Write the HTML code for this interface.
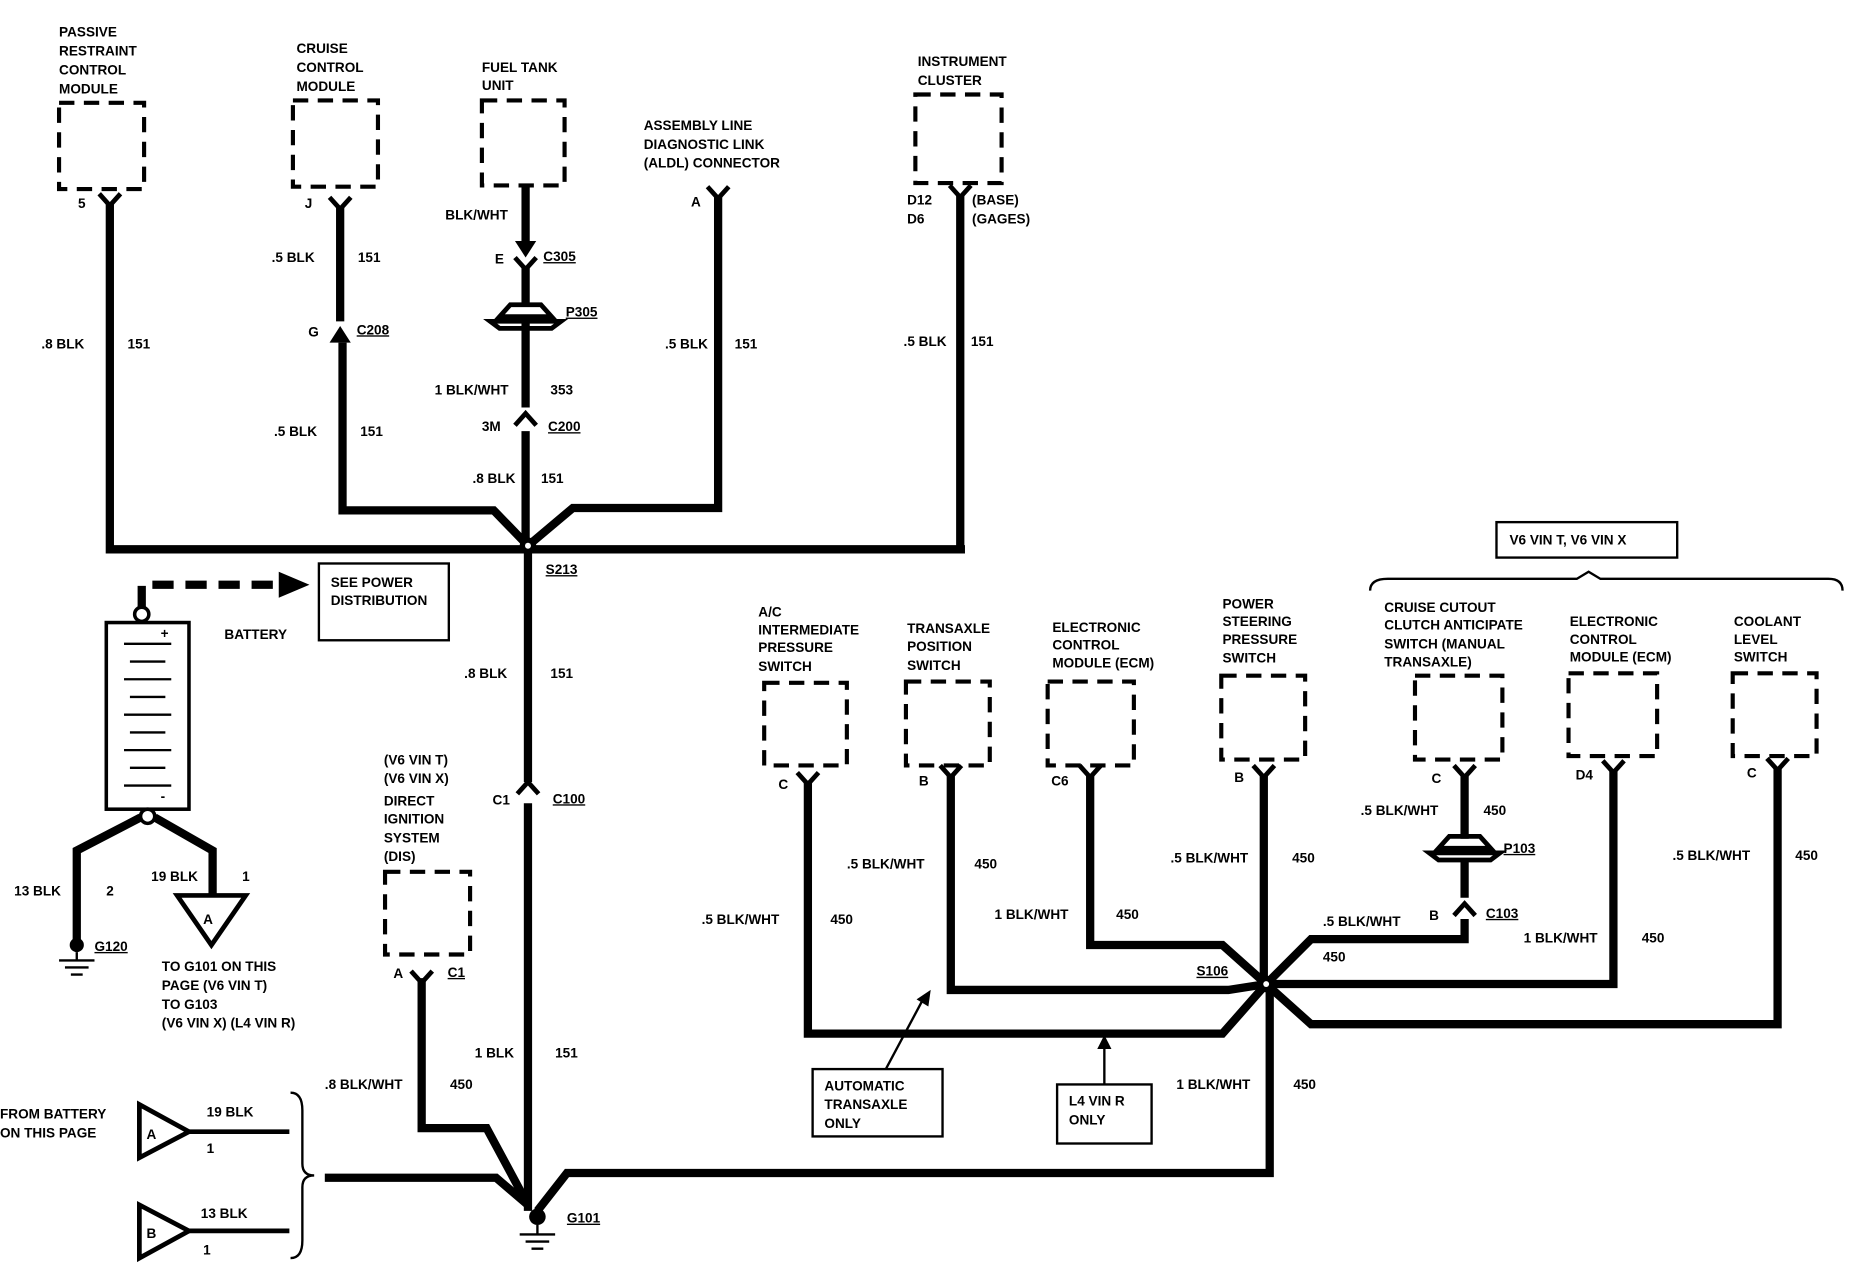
<!DOCTYPE html>
<html><head><meta charset="utf-8"><style>
html,body{margin:0;padding:0;background:#fff;}
svg{display:block}
text{font-family:"Liberation Sans",sans-serif;font-weight:bold;font-size:11.5px;fill:#000}
.w{stroke:#000;stroke-width:7;fill:none;stroke-linejoin:miter}
.b{stroke:#000;stroke-width:3.5;fill:none;stroke-dasharray:13 8}
.c{stroke:#000;stroke-width:4;fill:none}
.t{stroke:#000;stroke-width:2;fill:none}
</style></head><body>
<svg width="1852" height="1264" viewBox="0 0 1568 1070" preserveAspectRatio="none" xmlns="http://www.w3.org/2000/svg">
<rect width="1568" height="1070" fill="#fff"/>
<!-- module boxes -->
<rect class="b" x="50" y="87" width="72" height="73"/>
<rect class="b" x="248" y="85" width="72" height="73"/>
<rect class="b" x="408" y="85" width="70" height="72"/>
<rect class="b" x="775" y="80" width="73" height="75"/>
<rect class="b" x="326" y="738" width="72" height="70"/>
<rect class="b" x="647" y="578" width="70" height="70"/>
<rect class="b" x="767" y="577" width="71" height="71"/>
<rect class="b" x="887" y="577" width="73" height="71"/>
<rect class="b" x="1034" y="572" width="71" height="71"/>
<rect class="b" x="1198" y="572" width="74" height="71"/>
<rect class="b" x="1328" y="570" width="75" height="70"/>
<rect class="b" x="1467" y="570" width="71" height="70"/>
<!-- wires -->
<path class="w" d="M93 172 V465 H817"/>
<path class="w" d="M288 176 V272"/>
<path class="w" d="M290 290 V432 H418 L447 462"/>
<path class="w" d="M445 158 V205"/>
<path class="w" d="M445 225 V258 M445 272 V345"/>
<path class="w" d="M445 365 V462"/>
<path class="w" d="M608 166 V430 H485 L447 462"/>
<path class="w" d="M813 165 V465"/>
<path class="w" d="M447 462 V662 M447 680 V1025"/>
<path class="w" d="M357 828 V955 H412 L447 1020"/>
<path class="w" d="M275 997 H420 L447 1020"/>
<path class="w" d="M455 1025 L480 993 H1075 V833"/>
<!-- right side -->
<path class="w" d="M684 662 V875 H1035 L1072 833"/>
<path class="w" d="M805 656 V838 H1040 L1072 833"/>
<path class="w" d="M923 656 V800 H1035 L1072 833"/>
<path class="w" d="M1070 656 V833"/>
<path class="w" d="M1240 656 V710 M1240 728 V760 M1240 778 V795 H1110 L1072 833"/>
<path class="w" d="M1366 652 V833 H1072"/>
<path class="w" d="M1505 650 V867 H1110 L1072 833"/>
<!-- connector V shapes -->
<g class="c">
<path d="M84 164 L93 174 L102 164"/>
<path d="M279 167 L288 177 L297 167"/>
<path d="M436 218 L445 228 L454 218"/>
<path d="M436 360 L445 350 L454 360"/>
<path d="M599 158 L608 168 L617 158"/>
<path d="M804 157 L813 167 L822 157"/>
<path d="M438 672 L447 662 L456 672"/>
<path d="M348 822 L357 832 L366 822"/>
<path d="M675 654 L684 664 L693 654"/>
<path d="M796 648 L805 658 L814 648"/>
<path d="M914 648 L923 658 L932 648"/>
<path d="M1061 648 L1070 658 L1079 648"/>
<path d="M1231 648 L1240 658 L1249 648"/>
<path d="M1357 644 L1366 654 L1375 644"/>
<path d="M1496 642 L1505 652 L1514 642"/>
<path d="M1231 775 L1240 765 L1249 775"/>
</g>
<!-- arrowheads -->
<polygon points="279,290 297,290 288,276"/>
<polygon points="436,204 454,204 445,218"/>
<!-- P305 / P103 -->
<g class="c">
<path d="M423 268 L432 258 H458 L467 268 Z"/>
<path d="M415 272 H475 L467 278 H423 Z"/>
<path d="M1218 718 L1227 708 H1253 L1262 718 Z"/>
<path d="M1210 722 H1270 L1262 728 H1218 Z"/>
</g>
<!-- splices -->
<circle cx="447" cy="462" r="7" fill="#000"/><circle cx="447" cy="462" r="2.5" fill="#fff"/>
<circle cx="1072" cy="833" r="7" fill="#000"/><circle cx="1072" cy="833" r="2.5" fill="#fff"/>
<circle cx="455" cy="1030" r="7" fill="#000"/>
<path class="t" d="M455 1037 V1045 M440 1045 H470 M445 1051 H465 M450 1057 H460"/>
<!-- battery -->
<rect x="90" y="527" width="70" height="158" fill="none" stroke="#000" stroke-width="3"/>
<g class="t"><path d="M105 545 H145 M110 560 H140 M105 575 H145 M110 590 H140 M105 605 H145 M110 620 H140 M105 635 H145 M110 650 H140 M105 665 H145"/></g>
<text x="136" y="540">+</text><text x="136" y="678">-</text>
<circle cx="120" cy="520" r="6" fill="#fff" stroke="#000" stroke-width="3"/>
<circle cx="125" cy="691" r="6" fill="#fff" stroke="#000" stroke-width="3"/>
<path d="M120 514 V495 H240" stroke="#000" stroke-width="7" fill="none" stroke-dasharray="18 10"/>
<polygon points="236,484 262,495 236,506"/>
<rect x="270" y="477" width="110" height="65" fill="none" stroke="#000" stroke-width="2"/>
<path class="w" d="M119 692 L65 720 V800 M131 692 L180 720 V760"/>
<polygon points="150,758 208,758 179,800" fill="#fff" stroke="#000" stroke-width="4"/>
<text x="172" y="782" font-size="14">A</text>
<circle cx="65" cy="800" r="6" fill="#000"/>
<path class="t" d="M65 806 V813 M50 813 H80 M55 819 H75 M60 825 H70"/>
<!-- bottom left -->
<polygon points="118,935 118,980 160,958" fill="#fff" stroke="#000" stroke-width="4"/>
<text x="124" y="964" font-size="14">A</text>
<polygon points="118,1020 118,1065 160,1042" fill="#fff" stroke="#000" stroke-width="4"/>
<text x="124" y="1048" font-size="14">B</text>
<path class="c" d="M160 958 H245 M160 1042 H245"/>
<path class="t" d="M246 925 Q256 925 256 940 V985 Q256 995 266 995 Q256 995 256 1005 V1050 Q256 1065 246 1065"/>
<!-- boxes with text -->
<rect x="1267" y="442" width="153" height="30" fill="none" stroke="#000" stroke-width="2"/>
<path class="t" d="M1160 500 Q1160 490 1175 490 H1335 L1345 484 L1355 490 H1548 Q1560 490 1560 500"/>
<rect x="688" y="905" width="110" height="57" fill="none" stroke="#000" stroke-width="2"/>
<path class="t" d="M750 905 L782 845"/><polygon points="776,846 788,838 786,852"/>
<rect x="895" y="918" width="80" height="50" fill="none" stroke="#000" stroke-width="2"/>
<path class="t" d="M935 918 V885"/><polygon points="929,888 935,876 941,888"/>
<!-- labels -->
<g>
<text x="50" y="31">PASSIVE</text><text x="50" y="47">RESTRAINT</text><text x="50" y="63">CONTROL</text><text x="50" y="79">MODULE</text>
<text x="251" y="45">CRUISE</text><text x="251" y="61">CONTROL</text><text x="251" y="77">MODULE</text>
<text x="408" y="61">FUEL TANK</text><text x="408" y="76">UNIT</text>
<text x="545" y="110">ASSEMBLY LINE</text><text x="545" y="126">DIAGNOSTIC LINK</text><text x="545" y="142">(ALDL) CONNECTOR</text>
<text x="777" y="56">INSTRUMENT</text><text x="777" y="72">CLUSTER</text>
<text x="66" y="176">5</text><text x="258" y="176">J</text><text x="585" y="175">A</text>
<text x="768" y="173">D12</text><text x="768" y="189">D6</text><text x="823" y="173">(BASE)</text><text x="823" y="189">(GAGES)</text>
<text x="377" y="186">BLK/WHT</text>
<text x="35" y="295">.8 BLK</text><text x="108" y="295">151</text>
<text x="230" y="222">.5 BLK</text><text x="303" y="222">151</text>
<text x="261" y="285">G</text><text x="302" y="283" text-decoration="underline">C208</text>
<text x="232" y="369">.5 BLK</text><text x="305" y="369">151</text>
<text x="419" y="223">E</text><text x="460" y="221" text-decoration="underline">C305</text>
<text x="479" y="268" text-decoration="underline">P305</text>
<text x="368" y="334">1 BLK/WHT</text><text x="466" y="334">353</text>
<text x="408" y="365">3M</text><text x="464" y="365" text-decoration="underline">C200</text>
<text x="400" y="409">.8 BLK</text><text x="458" y="409">151</text>
<text x="563" y="295">.5 BLK</text><text x="622" y="295">151</text>
<text x="765" y="293">.5 BLK</text><text x="822" y="293">151</text>
<text x="462" y="486" text-decoration="underline">S213</text>
<text x="280" y="497">SEE POWER</text><text x="280" y="512">DISTRIBUTION</text>
<text x="190" y="541">BATTERY</text>
<text x="393" y="574">.8 BLK</text><text x="466" y="574">151</text>
<text x="417" y="681">C1</text><text x="468" y="680" text-decoration="underline">C100</text>
<text x="325" y="647">(V6 VIN T)</text><text x="325" y="663">(V6 VIN X)</text>
<text x="325" y="682">DIRECT</text><text x="325" y="697">IGNITION</text><text x="325" y="713">SYSTEM</text><text x="325" y="729">(DIS)</text>
<text x="333" y="828">A</text><text x="379" y="827" text-decoration="underline">C1</text>
<text x="12" y="758">13 BLK</text><text x="90" y="758">2</text><text x="128" y="746">19 BLK</text><text x="205" y="746">1</text>
<text x="80" y="805" text-decoration="underline">G120</text>
<text x="137" y="822">TO G101 ON THIS</text><text x="137" y="838">PAGE (V6 VIN T)</text><text x="137" y="854">TO G103</text><text x="137" y="870">(V6 VIN X) (L4 VIN R)</text>
<text x="402" y="895">1 BLK</text><text x="470" y="895">151</text>
<text x="275" y="922">.8 BLK/WHT</text><text x="381" y="922">450</text>
<text x="0" y="947">FROM BATTERY</text><text x="0" y="963">ON THIS PAGE</text>
<text x="175" y="945">19 BLK</text><text x="175" y="976">1</text>
<text x="170" y="1031">13 BLK</text><text x="172" y="1062">1</text>
<text x="480" y="1035" text-decoration="underline">G101</text>
<text x="642" y="522">A/C</text><text x="642" y="537">INTERMEDIATE</text><text x="642" y="552">PRESSURE</text><text x="642" y="568">SWITCH</text>
<text x="768" y="536">TRANSAXLE</text><text x="768" y="551">POSITION</text><text x="768" y="567">SWITCH</text>
<text x="891" y="535">ELECTRONIC</text><text x="891" y="550">CONTROL</text><text x="891" y="565">MODULE (ECM)</text>
<text x="1035" y="515">POWER</text><text x="1035" y="530">STEERING</text><text x="1035" y="545">PRESSURE</text><text x="1035" y="561">SWITCH</text>
<text x="1278" y="461">V6 VIN T, V6 VIN X</text>
<text x="1172" y="518">CRUISE CUTOUT</text><text x="1172" y="533">CLUTCH ANTICIPATE</text><text x="1172" y="549">SWITCH (MANUAL</text><text x="1172" y="564">TRANSAXLE)</text>
<text x="1329" y="530">ELECTRONIC</text><text x="1329" y="545">CONTROL</text><text x="1329" y="560">MODULE (ECM)</text>
<text x="1468" y="530">COOLANT</text><text x="1468" y="545">LEVEL</text><text x="1468" y="560">SWITCH</text>
<text x="659" y="668">C</text><text x="778" y="665">B</text><text x="890" y="665">C6</text><text x="1045" y="662">B</text>
<text x="1212" y="663">C</text><text x="1334" y="660">D4</text><text x="1479" y="658">C</text>
<text x="594" y="782">.5 BLK/WHT</text><text x="703" y="782">450</text>
<text x="717" y="735">.5 BLK/WHT</text><text x="825" y="735">450</text>
<text x="842" y="778">1 BLK/WHT</text><text x="945" y="778">450</text>
<text x="991" y="730">.5 BLK/WHT</text><text x="1094" y="730">450</text>
<text x="1152" y="690">.5 BLK/WHT</text><text x="1256" y="690">450</text>
<text x="1273" y="722" text-decoration="underline">P103</text>
<text x="1210" y="779">B</text><text x="1258" y="777" text-decoration="underline">C103</text>
<text x="1120" y="784">.5 BLK/WHT</text><text x="1120" y="814">450</text>
<text x="1013" y="826" text-decoration="underline">S106</text>
<text x="1290" y="798">1 BLK/WHT</text><text x="1390" y="798">450</text>
<text x="1416" y="728">.5 BLK/WHT</text><text x="1520" y="728">450</text>
<text x="996" y="922">1 BLK/WHT</text><text x="1095" y="922">450</text>
<text x="698" y="923">AUTOMATIC</text><text x="698" y="939">TRANSAXLE</text><text x="698" y="955">ONLY</text>
<text x="905" y="936">L4 VIN R</text><text x="905" y="952">ONLY</text>
</g>
</svg>
</body></html>
